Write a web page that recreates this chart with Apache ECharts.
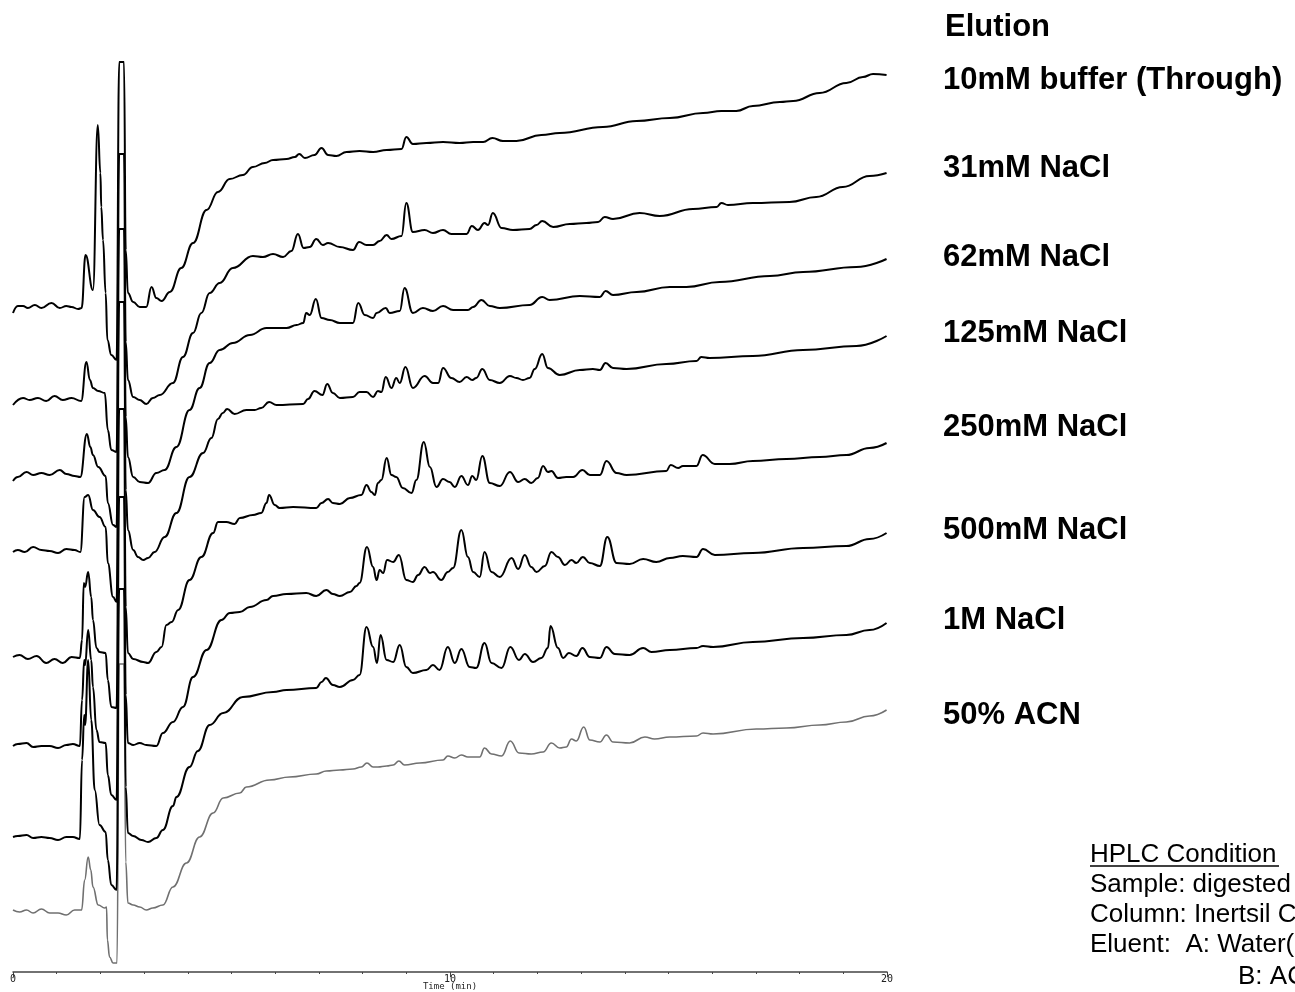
<!DOCTYPE html>
<html><head><meta charset="utf-8">
<script src="https://cdn.jsdelivr.net/npm/echarts@6/dist/echarts.min.js"></script>
<style>html,body{margin:0;padding:0;background:#fff}#chart{width:1295px;height:992px}</style>
</head><body><div id="chart"></div>
<script>
// ---- data (time in min, signal in arbitrary detector units above each trace's own baseline) ----
const traceNames = ['10mM buffer (Through)', '31mM NaCl', '62mM NaCl', '125mM NaCl', '250mM NaCl', '500mM NaCl', '1M NaCl', '50% ACN'];
const traceOffsets = [662, 570, 495, 422, 315, 227, 135, 60];
const legendTitle = 'Elution';
const xTickLabels = ['0', '10', '20'];
const xAxisName = 'Time (min)';
const conditionTitle = 'HPLC Condition';
const conditionLines = ['Sample: digested', 'Column: Inertsil C', 'Eluent:  A: Water(', 'B: AC'];

const trace10mM = [[0,-3],[0.11,4],[0.23,4],[0.34,2],[0.50,5],[0.65,2],[0.88,7],[1.07,2],[1.22,4],[1.34,3],[1.49,1],[1.57,2],[1.66,55],[1.83,20],[1.94,185],[2.00,137],[2.02,103],[2.06,70],[2.12,17],[2.16,-30],[2.25,-45],[2.37,-50],[2.43,248],[2.54,248],[2.58,60],[2.63,17],[2.75,8],[2.90,3],[3.05,3],[3.17,23],[3.28,12],[3.40,9],[3.59,18],[3.85,42],[4.12,67],[4.43,100],[4.69,118],[4.96,131],[5.26,135],[5.49,143],[5.76,147],[5.95,150],[6.26,151],[6.45,153],[6.55,156],[6.68,152],[6.90,155],[7.06,162],[7.21,155],[7.40,154],[7.63,158],[7.93,159],[8.24,158],[8.55,160],[8.89,161],[9.00,173],[9.15,166],[9.46,167],[9.84,168],[10.22,167],[10.53,168],[10.76,168],[10.97,172],[11.21,169],[11.52,169],[12.09,175],[12.51,177],[13.50,183],[14.27,189],[15.03,192],[15.79,197],[16.21,199],[16.55,199],[16.93,204],[17.55,208],[17.85,209],[18.46,217],[19.07,227],[19.45,233],[19.68,236],[19.99,235]];
const trace31mM = [[0,-3],[0.23,4],[0.38,2],[0.57,4],[0.76,1],[0.95,6],[1.14,2],[1.34,4],[1.56,1],[1.68,40],[1.76,22],[1.83,14],[1.95,11],[2.10,9],[2.17,-28],[2.25,-48],[2.37,-50],[2.43,248],[2.54,248],[2.58,60],[2.63,22],[2.75,5],[2.90,2],[3.05,-2],[3.20,4],[3.36,7],[3.66,19],[3.89,45],[4.12,69],[4.31,89],[4.50,109],[4.73,119],[5.03,134],[5.49,146],[5.72,145],[5.95,148],[6.18,145],[6.37,151],[6.52,168],[6.65,154],[6.79,155],[6.94,163],[7.09,157],[7.21,159],[7.48,155],[7.78,152],[7.92,160],[8.09,157],[8.24,157],[8.39,161],[8.55,167],[8.66,163],[8.89,166],[9.00,199],[9.15,170],[9.42,172],[9.61,169],[9.84,172],[10.03,168],[10.38,168],[10.50,176],[10.64,172],[10.79,179],[10.87,177],[10.98,189],[11.18,174],[11.44,172],[11.82,173],[11.98,177],[12.11,181],[12.36,175],[12.74,178],[13.12,179],[13.39,180],[13.54,185],[13.73,183],[14.34,189],[14.80,186],[15.56,193],[16.10,195],[16.21,199],[16.36,197],[16.93,199],[17.77,200],[18.38,205],[18.99,215],[19.60,226],[19.99,229]];
const trace62mM = [[0,-4],[0.11,0],[0.31,5],[0.46,2],[0.65,4],[0.84,2],[1.07,7],[1.22,3],[1.41,1],[1.54,0],[1.69,43],[1.77,30],[1.83,22],[1.95,10],[2.12,1],[2.17,-26],[2.29,-48],[2.37,-50],[2.43,248],[2.54,248],[2.58,60],[2.63,20],[2.75,0],[2.90,-5],[3.09,-6],[3.28,4],[3.47,7],[3.74,30],[4.04,67],[4.27,89],[4.50,114],[4.73,127],[5.03,134],[5.42,142],[5.80,149],[6.26,149],[6.49,152],[6.64,154],[6.71,164],[6.79,162],[6.93,178],[7.06,159],[7.25,157],[7.48,154],[7.78,154],[7.90,174],[8.05,162],[8.24,159],[8.32,164],[8.53,169],[8.62,164],[8.85,166],[8.96,189],[9.15,164],[9.38,169],[9.61,166],[9.84,171],[10.07,167],[10.41,167],[10.53,170],[10.72,177],[10.91,171],[11.14,169],[11.82,172],[12.11,180],[12.28,177],[12.97,181],[13.43,180],[13.56,186],[13.73,182],[14.27,185],[15.03,190],[15.41,190],[16.17,195],[17.32,201],[18.08,205],[19.30,210],[19.99,218]];
const trace125mM = [[0,-2],[0.11,0],[0.27,-2],[0.46,3],[0.65,0],[0.84,-1],[1.03,-3],[1.22,1],[1.41,0],[1.54,-2],[1.64,53],[1.72,55],[1.83,40],[1.98,33],[2.12,23],[2.17,-13],[2.29,-47],[2.37,-52],[2.43,248],[2.54,248],[2.58,60],[2.63,20],[2.75,0],[2.86,-7],[2.98,-10],[3.09,-8],[3.24,-2],[3.47,13],[3.74,37],[4.04,73],[4.35,97],[4.54,112],[4.69,131],[4.80,137],[4.90,141],[5.07,136],[5.34,140],[5.53,140],[5.68,142],[5.86,148],[6.03,145],[6.64,146],[6.75,151],[6.90,159],[7.08,155],[7.19,166],[7.32,157],[7.48,152],[7.78,153],[7.93,158],[8.09,158],[8.24,153],[8.35,159],[8.43,158],[8.53,173],[8.66,162],[8.77,172],[8.85,167],[8.98,183],[9.15,162],[9.42,174],[9.61,167],[9.73,167],[9.84,182],[10.03,172],[10.22,168],[10.38,173],[10.51,170],[10.60,172],[10.74,181],[10.91,170],[11.14,167],[11.37,174],[11.52,172],[11.67,170],[11.82,172],[11.94,181],[12.11,196],[12.24,182],[12.51,175],[12.97,180],[13.27,181],[13.43,180],[13.56,187],[13.73,182],[14.04,181],[14.95,186],[15.64,189],[15.75,193],[15.94,192],[16.93,194],[18.08,200],[19.30,204],[19.99,214]];
const trace250mM = [[0,0],[0.15,2],[0.34,-2],[0.54,1],[0.76,-6],[0.95,-2],[1.14,-6],[1.34,0],[1.53,-1],[1.58,17],[1.62,74],[1.65,70],[1.72,85],[1.79,60],[1.83,37],[1.91,9],[1.98,5],[2.12,4],[2.17,-23],[2.25,-50],[2.37,-51],[2.43,248],[2.54,248],[2.58,50],[2.63,4],[2.75,-2],[2.98,-5],[3.09,-6],[3.28,5],[3.40,10],[3.51,32],[3.63,35],[3.78,47],[4.04,77],[4.31,100],[4.58,124],[4.69,135],[4.88,135],[5.07,133],[5.19,139],[5.49,142],[5.68,144],[5.80,154],[5.86,162],[5.99,152],[6.10,149],[6.41,150],[6.94,149],[7.06,154],[7.21,158],[7.32,154],[7.48,153],[7.71,159],[7.97,162],[8.09,172],[8.20,165],[8.28,162],[8.35,174],[8.43,177],[8.55,199],[8.66,182],[8.77,180],[8.92,169],[9.12,164],[9.23,177],[9.40,215],[9.54,190],[9.69,170],[9.84,178],[9.99,175],[10.11,170],[10.26,181],[10.41,172],[10.51,181],[10.60,177],[10.74,201],[10.91,174],[11.14,171],[11.37,185],[11.56,175],[11.71,178],[11.86,174],[12.01,179],[12.13,191],[12.24,185],[12.32,186],[12.47,179],[12.66,180],[12.82,180],[13.03,187],[13.20,182],[13.43,182],[13.58,196],[13.81,184],[14.04,182],[14.95,186],[15.05,192],[15.22,189],[15.33,191],[15.64,191],[15.78,202],[16.06,193],[16.40,193],[16.93,196],[17.70,198],[18.46,200],[19.07,202],[19.60,209],[19.99,214]];
const trace500mM = [[0,-1],[0.11,1],[0.31,2],[0.46,-2],[0.65,-1],[0.84,-1],[1.03,-3],[1.22,0],[1.37,1],[1.53,-1],[1.58,45],[1.63,85],[1.65,80],[1.72,115],[1.79,85],[1.83,58],[1.91,15],[1.98,3],[2.12,2],[2.17,-30],[2.25,-50],[2.37,-55],[2.43,248],[2.54,248],[2.58,50],[2.63,2],[2.75,0],[2.90,2],[3.05,0],[3.28,-1],[3.43,12],[3.66,23],[3.89,38],[4.12,68],[4.43,95],[4.77,125],[4.96,132],[5.19,133],[5.42,138],[5.80,145],[5.95,149],[6.26,151],[6.71,152],[6.94,149],[7.17,155],[7.32,151],[7.48,149],[7.71,153],[7.86,159],[7.93,162],[8.10,198],[8.24,178],[8.32,165],[8.39,175],[8.47,172],[8.56,185],[8.70,183],[8.83,190],[9.00,165],[9.15,163],[9.27,170],[9.42,178],[9.54,172],[9.61,173],[9.80,165],[9.95,173],[10.07,177],[10.26,215],[10.41,188],[10.53,173],[10.68,168],[10.79,193],[10.95,173],[11.14,168],[11.41,187],[11.56,176],[11.71,190],[11.86,178],[11.98,173],[12.17,179],[12.32,193],[12.47,188],[12.63,180],[12.78,185],[12.89,182],[13.04,188],[13.20,182],[13.43,179],[13.60,208],[13.81,182],[14.11,181],[14.42,186],[14.72,183],[15.03,187],[15.33,189],[15.64,188],[15.79,196],[16.06,190],[16.93,192],[18.08,197],[19.07,199],[19.60,206],[19.99,212]];
const trace1M = [[0,0],[0.11,1],[0.31,2],[0.46,-1],[0.65,0],[0.84,-1],[1.03,-3],[1.22,0],[1.37,0],[1.53,-2],[1.58,77],[1.63,122],[1.65,112],[1.72,177],[1.79,117],[1.87,47],[1.98,12],[2.12,5],[2.17,-23],[2.25,-48],[2.37,-53],[2.43,248],[2.54,248],[2.58,50],[2.63,4],[2.75,1],[2.94,-3],[3.09,-5],[3.28,-1],[3.43,7],[3.66,31],[3.74,40],[4.04,70],[4.23,86],[4.50,112],[4.81,124],[5.26,140],[5.95,145],[6.26,147],[6.94,149],[7.06,155],[7.16,159],[7.32,152],[7.48,150],[7.78,157],[7.93,162],[8.09,210],[8.24,190],[8.33,174],[8.41,202],[8.55,177],[8.70,175],[8.85,192],[9.00,170],[9.15,164],[9.46,167],[9.61,172],[9.76,167],[9.95,190],[10.11,174],[10.26,188],[10.45,170],[10.60,169],[10.79,194],[10.95,174],[11.18,169],[11.38,190],[11.58,177],[11.71,183],[11.90,175],[12.09,179],[12.24,189],[12.30,211],[12.47,189],[12.59,179],[12.72,184],[12.89,181],[13.03,189],[13.20,180],[13.43,179],[13.58,190],[13.77,183],[14.11,182],[14.42,189],[14.61,185],[15.03,187],[15.64,189],[15.79,191],[16.02,190],[16.93,195],[18.08,199],[19.07,202],[19.60,207],[19.99,214]];
const trace50ACN = [[0,2],[0.15,0],[0.31,2],[0.46,-1],[0.65,3],[0.84,-1],[1.03,-1],[1.22,-3],[1.41,2],[1.57,2],[1.64,32],[1.72,55],[1.78,42],[1.83,25],[1.95,7],[2.10,4],[2.14,5],[2.16,-28],[2.21,-45],[2.29,-51],[2.38,-51],[2.43,248],[2.54,248],[2.58,50],[2.63,9],[2.75,7],[2.90,5],[3.05,2],[3.20,4],[3.43,7],[3.66,25],[3.97,49],[4.27,75],[4.58,99],[4.81,114],[5.19,119],[5.34,125],[5.87,132],[6.33,135],[6.94,138],[7.17,141],[7.48,142],[7.78,143],[7.97,145],[8.10,149],[8.24,145],[8.35,145],[8.55,146],[8.70,147],[8.83,151],[8.96,147],[9.31,149],[9.84,152],[9.95,156],[10.11,154],[10.26,157],[10.41,155],[10.68,155],[10.79,164],[10.95,158],[11.18,156],[11.38,171],[11.58,159],[11.86,158],[12.13,160],[12.32,169],[12.51,164],[12.66,165],[12.78,173],[12.89,171],[13.06,185],[13.20,172],[13.43,170],[13.58,177],[13.73,170],[14.11,169],[14.46,175],[14.68,173],[15.03,175],[15.64,176],[15.79,179],[16.02,178],[17.01,183],[17.70,184],[18.46,187],[19.07,190],[19.60,196],[19.99,202]];

const traces = [trace10mM, trace31mM, trace62mM, trace125mM, trace250mM, trace500mM, trace1M, trace50ACN];

// ---- chart ----
const chart = echarts.init(document.getElementById('chart'), null, {renderer: 'canvas'});
const labelY = [80, 168, 257, 333, 427, 530, 620, 715];
const series = traces.map((tr, i) => ({
  type: 'line',
  name: traceNames[i],
  data: tr.map(([t, h]) => [t, h + traceOffsets[i]]),
  showSymbol: false,
  smooth: 0.45,
  smoothMonotone: 'x',
  clip: false,
  lineStyle: {color: i === 7 ? '#707070' : '#000', width: i === 7 ? 1.6 : 2},
  z: 10 - i,
  silent: true
}));

const labelFont = 'bold 31px "Liberation Sans", Arial, sans-serif';
const condFont = '26px "Liberation Sans", Arial, sans-serif';
const graphics = [
  {type: 'text', x: 945, y: 27, style: {text: legendTitle, font: labelFont, fill: '#000', verticalAlign: 'middle'}}
];
traceNames.forEach((n, i) => {
  graphics.push({type: 'text', x: 943, y: labelY[i], style: {text: n, font: labelFont, fill: '#000', verticalAlign: 'middle'}});
});
graphics.push({type: 'text', x: 1090, y: 855, style: {text: conditionTitle, font: condFont, fill: '#000', verticalAlign: 'middle'}});
graphics.push({type: 'line', shape: {x1: 1090, y1: 866, x2: 1279, y2: 866}, style: {stroke: '#000', lineWidth: 1.5}});
const condX = [1090, 1090, 1090, 1238];
const condY = [885, 915, 945, 977];
conditionLines.forEach((s, i) => {
  graphics.push({type: 'text', x: condX[i], y: condY[i], style: {text: s, font: condFont, fill: '#000', verticalAlign: 'middle'}});
});

chart.setOption({
  animation: false,
  backgroundColor: '#fff',
  grid: {left: 13, right: 408, top: 62, bottom: 20, containLabel: false, outerBoundsMode: 'none'},
  xAxis: {
    type: 'value', min: 0, max: 20, interval: 10,
    name: xAxisName, nameLocation: 'middle', nameGap: 10, nameMoveOverlap: false,
    nameTextStyle: {fontFamily: '"DejaVu Sans Mono", monospace', fontSize: 9, color: '#222', verticalAlign: 'top', lineHeight: 9},
    axisLine: {show: true, lineStyle: {color: '#444', width: 1.5}},
    axisTick: {show: true, length: 5, lineStyle: {color: '#444'}},
    minorTick: {show: true, splitNumber: 10, length: 2, lineStyle: {color: '#444'}},
    splitLine: {show: false},
    axisLabel: {fontFamily: '"DejaVu Sans Mono", monospace', fontSize: 10, color: '#222', margin: 2,
      formatter: v => xTickLabels[Math.round(v / 10)]}
  },
  yAxis: {type: 'value', min: 0, max: 910, show: false},
  series: series,
  graphic: graphics
});
</script>
</body></html>
